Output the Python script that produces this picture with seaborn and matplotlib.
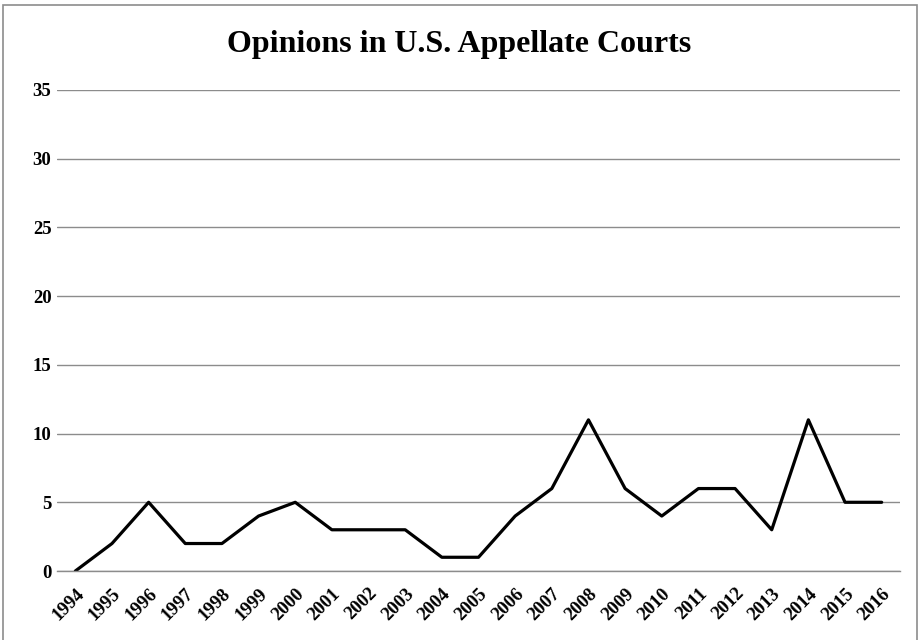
import matplotlib
matplotlib.use("Agg")
import matplotlib.pyplot as plt
import seaborn as sns
import pandas as pd
from matplotlib.patches import Rectangle

# Data
years = [str(y) for y in range(1994, 2017)]
opinions = [0, 2, 5, 2, 2, 4, 5, 3, 3, 3, 1, 1, 4, 6, 11, 6, 4, 6, 6, 3, 11, 5, 5]
y_ticks = [0, 5, 10, 15, 20, 25, 30, 35]

df = pd.DataFrame({"year": years, "opinions": opinions})
df["pos"] = range(len(df))

sns.set_style("white")
plt.rcParams['font.family'] = ['Liberation Serif', 'DejaVu Serif']
plt.rcParams['text.color'] = 'black'
plt.rcParams['xtick.color'] = 'black'
plt.rcParams['ytick.color'] = 'black'

fig = plt.figure(figsize=(9.18, 6.4), dpi=100)
ax = fig.add_axes([0.0621, 0.1078, 0.9183, 0.7516])

sns.lineplot(data=df, x="pos", y="opinions", color="black", linewidth=2.3, ax=ax)

ax.set_xlim(-0.5, len(years) - 0.5)
ax.set_ylim(0, 35)
ax.set_yticks(y_ticks)
ax.set_yticklabels([str(t) for t in y_ticks], fontsize=13.5, fontweight="bold")
ax.set_xticks(df["pos"])
ax.set_xticklabels(years, rotation=45, ha="right", rotation_mode="anchor",
                   fontsize=13.5, fontweight="bold")
ax.tick_params(axis="y", length=0, pad=4)
ax.tick_params(axis="x", length=0, pad=10)

ax.yaxis.grid(True, color="#8c8c8c", linewidth=1.0)
ax.set_axisbelow(True)
for s in ["top", "right", "left"]:
    ax.spines[s].set_visible(False)
ax.spines["bottom"].set_color("#8c8c8c")
ax.spines["bottom"].set_linewidth(1.0)
ax.set_xlabel("")
ax.set_ylabel("")

fig.text(0.5, 0.93, "Opinions in U.S. Appellate Courts", ha="center", va="center",
         fontsize=23, fontweight="bold")

# outer chart frame
fig.patches.append(Rectangle((0.003, -0.01), 0.996, 1.0023, transform=fig.transFigure,
                             fill=False, edgecolor="#8c8c8c", linewidth=1.2))

fig.savefig("out.png", dpi=100)
